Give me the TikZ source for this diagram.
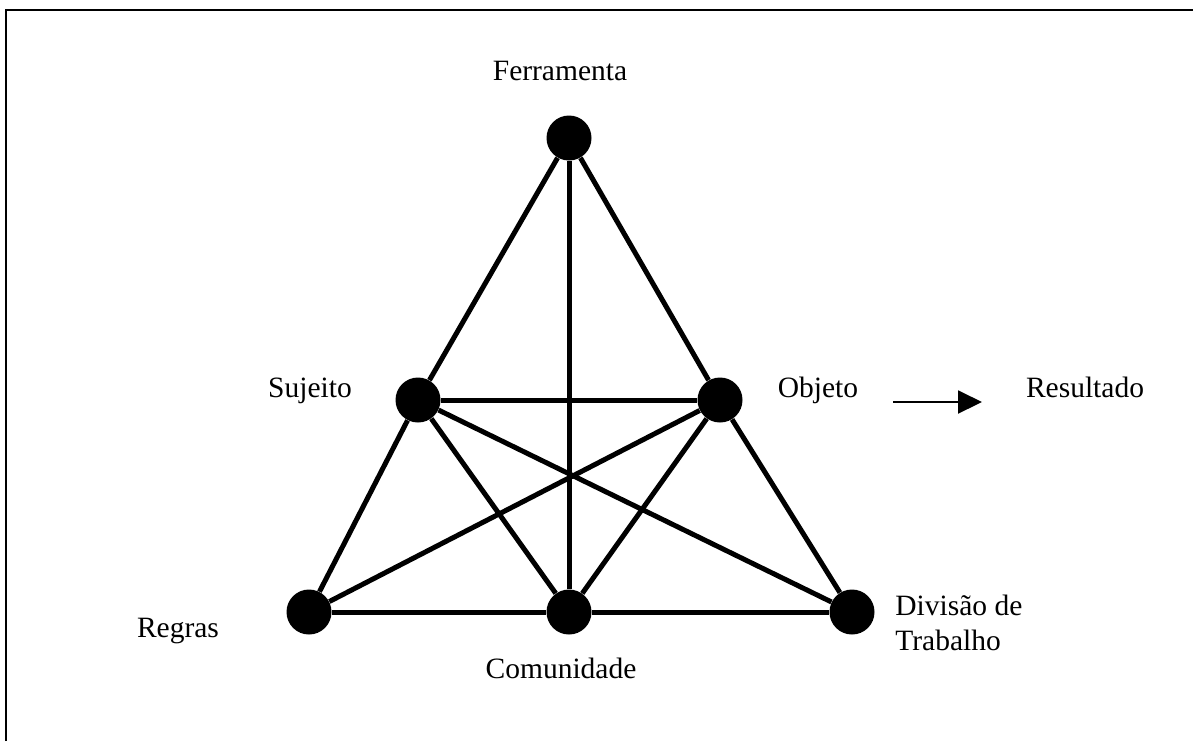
\documentclass[tikz,border=0pt]{standalone}
\usepackage{fontspec}
\setmainfont{Liberation Serif}
\usetikzlibrary{arrows.meta}
\tikzset{
  dot/.style={circle,fill=black,draw=none,minimum size=22.5pt,inner sep=0pt},
  edge/.style={line width=2.5pt},
  lbl/.style={inner sep=0pt,font=\fontsize{14.75}{17.5}\selectfont},
  frame/.style={line width=1.1pt},
  outarrow/.style={line width=1pt,-{Triangle[length=12pt,width=11.5pt]}}
}
\begin{document}
\begin{tikzpicture}[x=0.5pt,y=-0.5pt]
\useasboundingbox (0,0) rectangle (1193,741);
% frame
\coordinate (tl) at (6,10);
\coordinate (tr) at (1193,10);
\coordinate (bl) at (6,741);
\draw[frame] (bl) -- (tl) -- (tr);
% dots
\node[dot] (F) at (569,138) {};
\node[dot] (S) at (418,400) {};
\node[dot] (O) at (720,400) {};
\node[dot] (R) at (309,612) {};
\node[dot] (C) at (569,612) {};
\node[dot] (D) at (852,612) {};
% edges
\draw[edge] (F) -- (S);
\draw[edge] (F) -- (O);
\draw[edge] (F) -- (C);
\draw[edge] (S) -- (O);
\draw[edge] (S) -- (R);
\draw[edge] (S) -- (C);
\draw[edge] (S) -- (D);
\draw[edge] (O) -- (R);
\draw[edge] (O) -- (C);
\draw[edge] (O) -- (D);
\draw[edge] (R) -- (C);
\draw[edge] (C) -- (D);
% labels
\node[lbl,anchor=base] (lF) at (560,80) {Ferramenta};
\node[lbl,anchor=base] (lS) at (310,397) {Sujeito};
\node[lbl,anchor=base] (lO) at (818,397) {Objeto};
\node[lbl,anchor=base] (lRes) at (1085,397) {Resultado};
\node[lbl,anchor=base] (lR) at (178,637) {Regras};
\node[lbl,anchor=base] (lC) at (561,678) {Comunidade};
\node[lbl,anchor=base west,align=left] (lD) at (895,650) {Divisão de\\Trabalho};
% arrow
\coordinate (a1) at (893,402);
\coordinate (a2) at (982,402);
\draw[outarrow] (a1) -- (a2);
\end{tikzpicture}
\end{document}
